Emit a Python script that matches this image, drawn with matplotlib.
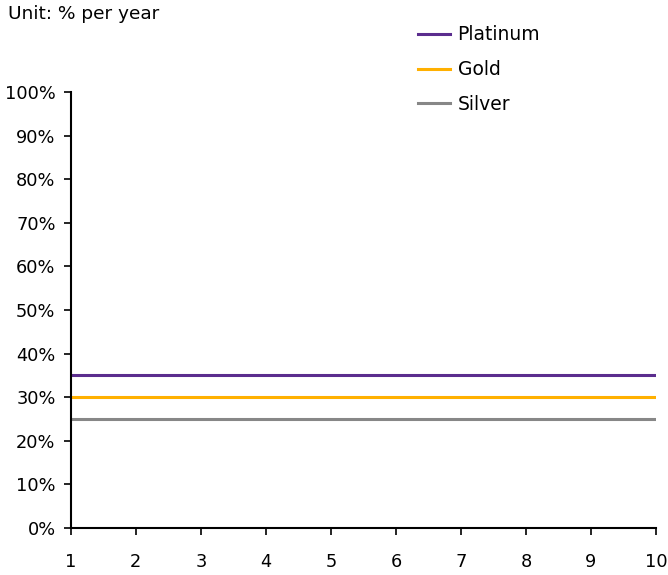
import matplotlib
matplotlib.use("Agg")
import matplotlib.pyplot as plt
from matplotlib.ticker import PercentFormatter

# dados
anos = [1, 2, 3, 4, 5, 6, 7, 8, 9, 10]
platinum = [0.35] * 10
gold = [0.30] * 10
silver = [0.25] * 10

plt.rcParams['font.family'] = ['DejaVu Sans']

fig = plt.figure(figsize=(6.68, 5.75), dpi=100)
ax = fig.add_axes([0.106, 0.0817, 0.876, 0.7583])

ax.plot(anos, platinum, color='#5b2d8e', lw=2.2, label='Platinum')
ax.plot(anos, gold, color='#ffb000', lw=2.2, label='Gold')
ax.plot(anos, silver, color='#878787', lw=2.2, label='Silver')

ax.set_xlim(1, 10)
ax.set_ylim(0, 1)
ax.set_xticks(anos)
ax.set_yticks([i / 10 for i in range(11)])
ax.yaxis.set_major_formatter(PercentFormatter(1.0, decimals=0))
ax.tick_params(axis='both', direction='out', length=5, width=1.2, labelsize=12.8, colors='black')
ax.tick_params(axis='x', pad=13)
ax.tick_params(axis='y', pad=6)
for s in ['top', 'right']:
    ax.spines[s].set_visible(False)
for s in ['left', 'bottom']:
    ax.spines[s].set_linewidth(1.5)

fig.text(0.012, 0.975, 'Unit: % per year', fontsize=13.3, va='center', ha='left')

fig.legend(loc='upper left', bbox_to_anchor=(0.600, 0.985), frameon=False,
           fontsize=13.5, handlelength=1.7, handletextpad=0.43, labelspacing=0.84)

fig.savefig('out.png', dpi=100)
